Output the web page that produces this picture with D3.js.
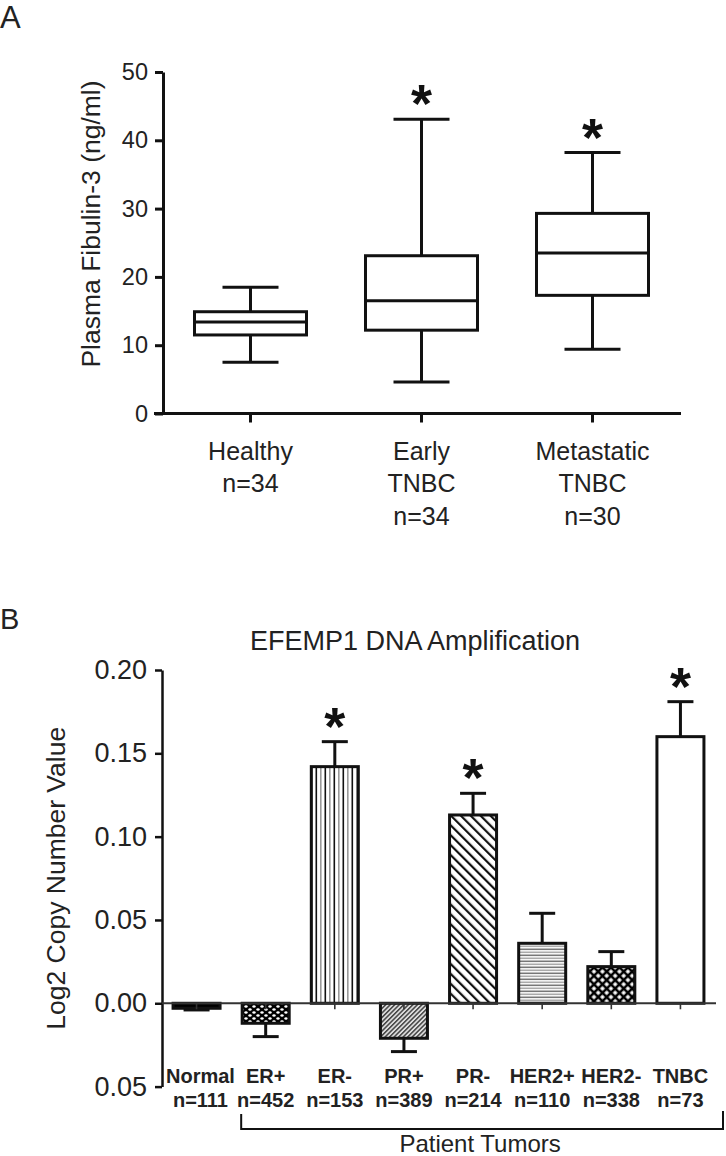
<!DOCTYPE html>
<html><head><meta charset="utf-8">
<script src="https://cdn.jsdelivr.net/npm/d3@7"></script>
<style>body{margin:0;background:#fff}svg{display:block}text{font-family:"Liberation Sans",Arial,sans-serif}</style>
</head><body>
<svg id="chart" width="726" height="1156"></svg>
<script>
// ---------- Panel A data ----------
const boxCategories = ["Healthy", "Early TNBC", "Metastatic TNBC"];
const boxLabelLines = [["Healthy", "n=34"], ["Early", "TNBC", "n=34"], ["Metastatic", "TNBC", "n=30"]];
const boxMin = [7.5, 4.6, 9.4];
const boxQ1 = [11.5, 12.2, 17.3];
const boxMedian = [13.4, 16.5, 23.5];
const boxQ3 = [14.9, 23.1, 29.3];
const boxMax = [18.5, 43.1, 38.2];
const boxSignificant = [false, true, true];
const boxTicks = [0, 10, 20, 30, 40, 50];

// ---------- Panel B data ----------
const barCategories = ["Normal", "ER+", "ER-", "PR+", "PR-", "HER2+", "HER2-", "TNBC"];
const barCounts = ["n=111", "n=452", "n=153", "n=389", "n=214", "n=110", "n=338", "n=73"];
const barValues = [-0.003, -0.012, 0.142, -0.021, 0.113, 0.036, 0.022, 0.160];
const barErrors = [0.001, 0.008, 0.015, 0.008, 0.013, 0.018, 0.009, 0.021];
const barSignificant = [false, false, true, false, true, false, false, true];
const barPatterns = ["solid", "dots", "vlines", "fine", "diag", "hlines", "cross", "none"];
const barTicks = [-0.05, 0, 0.05, 0.10, 0.15, 0.20];
const barTickLabels = ["0.05", "0.00", "0.05", "0.10", "0.15", "0.20"];

const svg = d3.select("#chart");
const TXT = "#222";

// ---------- patterns ----------
const defs = svg.append("defs");
function pat(id, w, h, transform) {
  const p = defs.append("pattern").attr("id", id).attr("patternUnits", "userSpaceOnUse")
    .attr("width", w).attr("height", h);
  if (transform) p.attr("patternTransform", transform);
  return p;
}
let p = pat("dots", 8, 6);
p.append("rect").attr("width", 8).attr("height", 6).attr("fill", "#000");
p.append("ellipse").attr("cx", 2).attr("cy", 1.5).attr("rx", 1.7).attr("ry", 1.2).attr("fill", "#fff");
p.append("ellipse").attr("cx", 6).attr("cy", 4.5).attr("rx", 1.7).attr("ry", 1.2).attr("fill", "#fff");
p = pat("vlines", 9, 10);
p.append("rect").attr("width", 9).attr("height", 10).attr("fill", "#fff");
p.append("rect").attr("x", 0.5).attr("width", 1.6).attr("height", 10).attr("fill", "#111");
p.append("rect").attr("x", 5).attr("width", 1.6).attr("height", 10).attr("fill", "#999");
p = pat("fine", 3.2, 3.2, "rotate(45)");
p.append("rect").attr("width", 3.2).attr("height", 3.2).attr("fill", "#ddd");
p.append("rect").attr("width", 1.5).attr("height", 3.2).attr("fill", "#444");
p = pat("diag", 7, 7, "rotate(-45)");
p.append("rect").attr("width", 7).attr("height", 7).attr("fill", "#fff");
p.append("rect").attr("width", 2.2).attr("height", 7).attr("fill", "#111");
p = pat("hlines", 10, 6);
p.append("rect").attr("width", 10).attr("height", 6).attr("fill", "#fff");
p.append("rect").attr("y", 0.5).attr("width", 10).attr("height", 1.6).attr("fill", "#777");
p.append("rect").attr("y", 3.5).attr("width", 10).attr("height", 1.6).attr("fill", "#aaa");
p = pat("cross", 6, 6, "rotate(45)");
p.append("rect").attr("width", 6).attr("height", 6).attr("fill", "#000");
p.append("rect").attr("x", 1.3).attr("y", 1.3).attr("width", 3.4).attr("height", 3.4).attr("fill", "#fff");
const fillFor = k => k === "solid" ? "#000" : k === "none" ? "#fff" : `url(#${k})`;

// ---------- Panel A ----------
svg.append("text").attr("x", 0).attr("y", 28).attr("font-size", 31).attr("fill", TXT).text("A");

const yA = d3.scaleLinear().domain([0, 50]).range([413.5, 72]);
const xA = d3.scaleBand().domain(boxCategories).range([165, 678]);
const axA = 163;

const gAy = svg.append("g").attr("transform", `translate(${axA},0)`)
  .call(d3.axisLeft(yA).tickValues(boxTicks).tickSize(8).tickSizeOuter(0).tickPadding(7).tickFormat(d3.format("d")));
gAy.select(".domain").attr("stroke-width", 3).attr("stroke", "#111");
gAy.selectAll(".tick line").attr("stroke-width", 3).attr("stroke", "#111");
gAy.selectAll(".tick text").attr("font-size", 23.5).attr("fill", TXT).attr("font-family", "Liberation Sans, Arial, sans-serif");

const gAx = svg.append("g").attr("transform", `translate(0,${yA(0)})`)
  .call(d3.axisBottom(xA).tickSize(9).tickSizeOuter(0).tickFormat(""));
gAx.select(".domain").remove();
gAx.selectAll(".tick line").attr("stroke-width", 3).attr("stroke", "#111");
svg.append("line").attr("x1", 154).attr("x2", 681).attr("y1", yA(0)).attr("y2", yA(0))
  .attr("stroke", "#111").attr("stroke-width", 3);

boxLabelLines.forEach((lines, i) => {
  const t = svg.append("text").attr("text-anchor", "middle").attr("font-size", 25).attr("fill", TXT);
  lines.forEach((ln, j) => t.append("tspan").attr("x", xA(boxCategories[i]) + xA.bandwidth() / 2)
    .attr("y", yA(0) + 46 + j * 32.5).text(ln));
});

svg.append("text").attr("transform", `translate(100,224) rotate(-90)`)
  .attr("text-anchor", "middle").attr("font-size", 26.5).attr("fill", TXT).text("Plasma Fibulin-3 (ng/ml)");

const boxW = 112, capW = 56;
const boxes = svg.append("g").attr("stroke", "#111").attr("stroke-width", 3).attr("fill", "none");
boxCategories.forEach((c, i) => {
  const cx = xA(c) + xA.bandwidth() / 2;
  const g = boxes.append("g");
  g.append("line").attr("x1", cx).attr("x2", cx).attr("y1", yA(boxMax[i])).attr("y2", yA(boxQ3[i]));
  g.append("line").attr("x1", cx).attr("x2", cx).attr("y1", yA(boxQ1[i])).attr("y2", yA(boxMin[i]));
  g.append("line").attr("x1", cx - capW / 2).attr("x2", cx + capW / 2).attr("y1", yA(boxMax[i])).attr("y2", yA(boxMax[i]));
  g.append("line").attr("x1", cx - capW / 2).attr("x2", cx + capW / 2).attr("y1", yA(boxMin[i])).attr("y2", yA(boxMin[i]));
  g.append("rect").attr("x", cx - boxW / 2).attr("width", boxW).attr("y", yA(boxQ3[i]))
    .attr("height", yA(boxQ1[i]) - yA(boxQ3[i])).attr("fill", "#fff");
  g.append("line").attr("x1", cx - boxW / 2).attr("x2", cx + boxW / 2).attr("y1", yA(boxMedian[i])).attr("y2", yA(boxMedian[i]));
  if (boxSignificant[i]) {
    svg.append("text").attr("x", cx).attr("y", yA(boxMax[i]) + 3).attr("text-anchor", "middle")
      .attr("font-size", 54).attr("font-weight", "bold").attr("fill", "#111").text("*");
  }
});

// ---------- Panel B ----------
svg.append("text").attr("x", 0).attr("y", 629).attr("font-size", 29).attr("fill", TXT).text("B");
svg.append("text").attr("x", 415).attr("y", 650).attr("text-anchor", "middle").attr("font-size", 27)
  .attr("fill", TXT).text("EFEMP1 DNA Amplification");

const yB = d3.scaleLinear().domain([-0.05, 0.20]).range([1086.6, 670]);
const xB = d3.scaleBand().domain(barCategories).range([162, 715]).paddingInner(0.32).paddingOuter(0.16);
const axB = 162;

const gBy = svg.append("g").attr("transform", `translate(${axB},0)`)
  .call(d3.axisLeft(yB).tickValues(barTicks).tickSize(7).tickSizeOuter(0).tickPadding(8)
    .tickFormat((d, i) => barTickLabels[i]));
gBy.select(".domain").attr("stroke-width", 2.5).attr("stroke", "#111");
gBy.selectAll(".tick line").attr("stroke-width", 2.5).attr("stroke", "#111");
gBy.selectAll(".tick text").attr("font-size", 27).attr("fill", TXT).attr("font-family", "Liberation Sans, Arial, sans-serif");

svg.append("text").attr("transform", `translate(65,${yB(0.075)}) rotate(-90)`)
  .attr("text-anchor", "middle").attr("font-size", 26.5).attr("fill", TXT).text("Log2 Copy Number Value");

const bars = svg.append("g");
barCategories.forEach((c, i) => {
  const x0 = xB(c), w = xB.bandwidth(), cx = x0 + w / 2;
  const v = barValues[i], e = barErrors[i];
  const tip = v + (v >= 0 ? e : -e);
  bars.append("line").attr("x1", cx).attr("x2", cx).attr("y1", yB(v)).attr("y2", yB(tip))
    .attr("stroke", "#111").attr("stroke-width", 3);
  bars.append("line").attr("x1", cx - 13).attr("x2", cx + 13).attr("y1", yB(tip)).attr("y2", yB(tip))
    .attr("stroke", "#111").attr("stroke-width", 3);
  bars.append("rect").attr("x", x0).attr("width", w)
    .attr("y", yB(Math.max(0, v))).attr("height", Math.abs(yB(v) - yB(0)))
    .attr("fill", fillFor(barPatterns[i])).attr("stroke", "#111").attr("stroke-width", 3);
  if (barSignificant[i]) {
    svg.append("text").attr("x", cx).attr("y", yB(tip) + 3).attr("text-anchor", "middle")
      .attr("font-size", 54).attr("font-weight", "bold").attr("fill", "#111").text("*");
  }
});

// zero line with small ticks
const gBx = svg.append("g").attr("transform", `translate(0,${yB(0)})`)
  .call(d3.axisBottom(xB).tickSize(6).tickSizeOuter(0).tickFormat(""));
gBx.select(".domain").remove();
gBx.selectAll(".tick line").attr("stroke-width", 1.6).attr("stroke", "#333");
svg.append("line").attr("x1", axB).attr("x2", 716).attr("y1", yB(0)).attr("y2", yB(0))
  .attr("stroke", "#333").attr("stroke-width", 2);

// category labels
barCategories.forEach((c, i) => {
  const cx = xB(c) + xB.bandwidth() / 2;
  const t = svg.append("text").attr("text-anchor", "middle").attr("font-size", 20)
    .attr("font-weight", "bold").attr("fill", TXT);
  const s1 = t.append("tspan").attr("x", cx).attr("y", yB(-0.05) - 3.5).text(c);
  const s2 = t.append("tspan").attr("x", cx).attr("y", yB(-0.05) + 20.5).text(barCounts[i]);
  // keep first label clear of the axis
  const half = t.node().getBBox().width / 2;
  if (cx - half < axB + 4) { s1.attr("x", axB + 4 + half); s2.attr("x", axB + 4 + half); }
});

// bracket for patient tumors
const bl = xB("ER+") - 1, br = 723, by = 1129;
svg.append("path").attr("d", `M${bl},1114V${by}H${br}V1111`).attr("fill", "none")
  .attr("stroke", "#111").attr("stroke-width", 2);
svg.append("text").attr("x", (bl + br) / 2 - 2).attr("y", 1152).attr("text-anchor", "middle")
  .attr("font-size", 24).attr("fill", TXT).text("Patient Tumors");
</script>
</body></html>
